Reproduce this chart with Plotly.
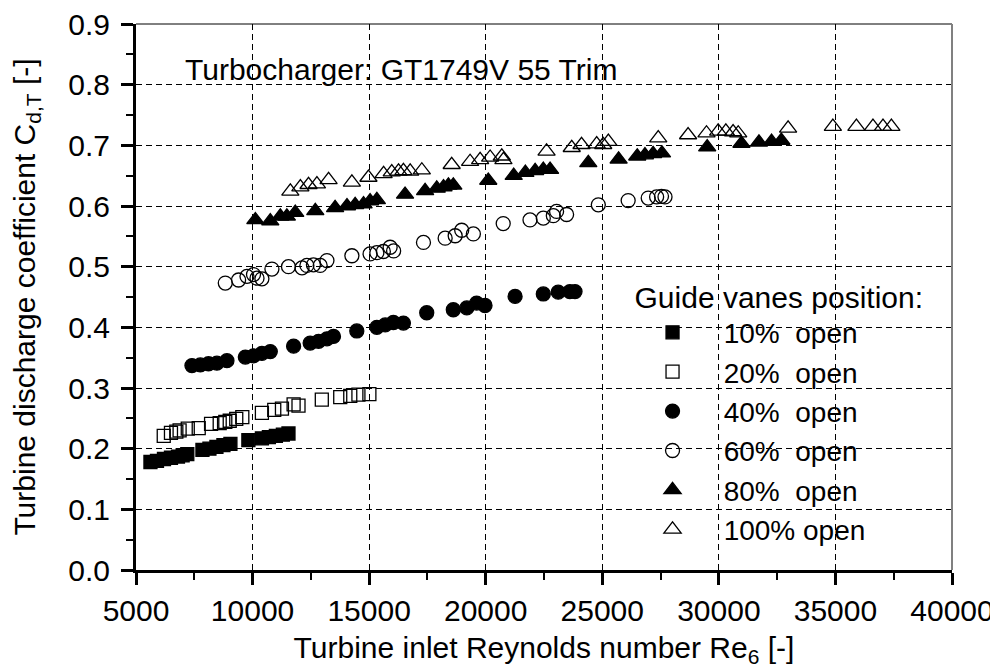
import plotly.graph_objects as go

FONT = "Liberation Sans, Arial, sans-serif"

# ---- data ----
x_10 = [5620, 5900, 6200, 6500, 6800, 7000, 7200, 7850, 8150, 8450, 8750, 9050,
        9820, 10400, 10700, 11000, 11300, 11540]
y_10 = [0.178, 0.180, 0.183, 0.185, 0.187, 0.189, 0.191, 0.198, 0.200, 0.203, 0.206, 0.208,
        0.214, 0.217, 0.219, 0.221, 0.223, 0.225]

x_20 = [6190, 6500, 6730, 6870, 7220, 7690, 8220, 8590, 8830, 9020, 9300, 9560, 10400,
        10930, 11260, 11760, 11970, 12970, 13760, 14190, 14540, 15010]
y_20 = [0.221, 0.226, 0.228, 0.230, 0.233, 0.234, 0.241, 0.242, 0.244, 0.246, 0.249, 0.252,
        0.259, 0.264, 0.266, 0.273, 0.271, 0.281, 0.285, 0.287, 0.289, 0.290]

x_40 = [7400, 7760, 8110, 8470, 8900, 9690, 10040, 10400, 10760, 11760, 12470, 12830, 13190,
        13470, 14470, 15330, 15690, 16040, 16470, 17470, 18610, 19190, 19610, 19970, 21260,
        22470, 23110, 23610, 23830]
y_40 = [0.337, 0.338, 0.340, 0.341, 0.345, 0.351, 0.353, 0.357, 0.360, 0.369, 0.374, 0.377,
        0.381, 0.385, 0.394, 0.400, 0.404, 0.408, 0.407, 0.424, 0.429, 0.432, 0.440, 0.436,
        0.451, 0.455, 0.458, 0.459, 0.459]

x_60 = [8830, 9400, 9760, 10040, 10190, 10400, 10830, 11540, 12120, 12330, 12610, 12900,
        13190, 14260, 15040, 15330, 15610, 15900, 16050, 17330, 18260, 18690, 18970, 19470,
        20750, 21900, 22470, 22900, 23040, 23470, 24830, 26110, 26970, 27330, 27540, 27690]
y_60 = [0.473, 0.478, 0.484, 0.487, 0.481, 0.480, 0.496, 0.500, 0.498, 0.502, 0.503, 0.502,
        0.510, 0.518, 0.521, 0.523, 0.525, 0.532, 0.526, 0.540, 0.547, 0.551, 0.560, 0.554,
        0.571, 0.577, 0.580, 0.584, 0.591, 0.586, 0.602, 0.609, 0.613, 0.615, 0.616, 0.615]

x_80 = [10120, 10760, 11190, 11470, 11830, 12690, 13540, 14050, 14400, 14760, 15040, 15330,
        16540, 17400, 17900, 18190, 18400, 18610, 20110, 21200, 21700, 22120, 22470, 22760,
        24400, 25700, 26500, 26830, 27180, 27560, 29500, 30970, 31720, 32260, 32680]
y_80 = [0.577, 0.575, 0.583, 0.583, 0.589, 0.592, 0.597, 0.600, 0.602, 0.603, 0.608, 0.610,
        0.619, 0.625, 0.629, 0.631, 0.634, 0.634, 0.642, 0.650, 0.655, 0.658, 0.660, 0.660,
        0.671, 0.677, 0.682, 0.684, 0.686, 0.687, 0.697, 0.703, 0.705, 0.706, 0.708]

x_100 = [11620, 12050, 12400, 12760, 13260, 14260, 14970, 15620, 15970, 16260, 16470, 16760,
         17260, 18540, 19330, 19760, 20190, 20690, 20760, 22610, 23690, 24110, 24760, 25040,
         25260, 27400, 28680, 29470, 29970, 30300, 30610, 30830, 32970, 34890, 35900, 36610,
         37040, 37400]
y_100 = [0.624, 0.631, 0.635, 0.636, 0.643, 0.639, 0.647, 0.653, 0.656, 0.657, 0.658, 0.657,
         0.659, 0.668, 0.673, 0.676, 0.680, 0.682, 0.676, 0.690, 0.696, 0.701, 0.702, 0.701,
         0.706, 0.712, 0.717, 0.720, 0.723, 0.723, 0.722, 0.720, 0.728, 0.731, 0.731, 0.731,
         0.731, 0.731]

series_names = ["10%\u00a0\u00a0open", "20%\u00a0\u00a0open", "40%\u00a0\u00a0open",
                "60%\u00a0\u00a0open", "80%\u00a0\u00a0open", "100%\u00a0open"]
series_x = [x_10, x_20, x_40, x_60, x_80, x_100]
series_y = [y_10, y_20, y_40, y_60, y_80, y_100]
symbols = ["square", "square-open", "circle", "circle-open", "triangle-up", "triangle-up-open"]
sizes = [13, 13, 14, 14, 15, 15]

legend_title = "Guide vanes position:"
annotation_text = "Turbocharger: GT1749V 55 Trim"
x_title = "Turbine inlet Reynolds number Re<sub>6</sub> [-]"
y_title = "Turbine discharge coefficient C<sub>d,T</sub> [-]"

# ---- figure ----
fig = go.Figure()
pad = "\u00a0\u00a0\u00a0\u00a0"
for name, xs, ys, sym, sz in zip(series_names, series_x, series_y, symbols, sizes):
    fig.add_trace(go.Scatter(
        x=xs, y=ys, mode="markers", name=pad + name,
        marker=dict(symbol=sym, size=sz, color="black", line=dict(color="black", width=1.3)),
    ))

axis_common = dict(
    showline=True, linecolor="black", linewidth=3, mirror=False,
    ticks="outside", ticklen=12, tickwidth=3, tickcolor="black",
    showgrid=True, gridcolor="black", gridwidth=1, griddash="6px,4px",
    zeroline=False, ticklabeloverflow="allow", automargin=False,
    tickfont=dict(family=FONT, size=30, color="black"),
)

fig.update_xaxes(
    range=[5000, 40000], tick0=5000, dtick=5000, tickformat="d", ticklabelstandoff=0,
    minor=dict(ticks="outside", ticklen=7, tickwidth=2, tickcolor="black", dtick=2500, showgrid=False),
    title=dict(text=x_title, font=dict(family=FONT, size=30, color="black"), standoff=11),
    **axis_common,
)
fig.update_yaxes(
    range=[0, 0.9], tick0=0, dtick=0.1, tickformat=".1f", ticklabelstandoff=5,
    minor=dict(ticks="outside", ticklen=7, tickwidth=2, tickcolor="black", dtick=0.05, showgrid=False),
    title=dict(text=y_title, font=dict(family=FONT, size=30, color="black"), standoff=25),
    **axis_common,
)

# the page body adds an 8 px offset, so the figure is 990 x 661
fig.update_layout(
    width=990, height=661,
    margin=dict(l=128, r=46, t=16, b=99),
    paper_bgcolor="white", plot_bgcolor="white",
    font=dict(family=FONT, size=30, color="black"),
    showlegend=True,
    legend=dict(
        x=0.6085, y=0.552, xanchor="left", yanchor="top",
        bgcolor="rgba(0,0,0,0)", borderwidth=0,
        font=dict(family=FONT, size=28, color="black"),
        title=dict(text=legend_title, font=dict(family=FONT, size=30, color="black")),
        indentation=20,
        tracegroupgap=0,
    ),
    shapes=[
        # white box behind the annotation text (covers gridlines only)
        dict(type="rect", xref="paper", yref="paper", x0=0.0147, x1=0.652, y0=0.847, y1=0.9714,
             fillcolor="white", line=dict(width=0), layer="between"),
        # white box behind the legend
        dict(type="rect", xref="paper", yref="paper", x0=0.6017, x1=0.9828, y0=0.039, y1=0.5447,
             fillcolor="white", line=dict(width=0), layer="between"),
        # thin top frame line
        dict(type="line", xref="paper", yref="paper", x0=0, x1=1, y0=1, y1=1,
             line=dict(color="black", width=1)),
        # thin grey right frame line
        dict(type="line", xref="paper", yref="paper", x0=1, x1=1, y0=0, y1=1,
             line=dict(color="#808080", width=2)),
    ],
    annotations=[
        dict(text=annotation_text, xref="paper", yref="paper", x=0.058, y=0.917,
             xanchor="left", yanchor="middle", showarrow=False,
             font=dict(family=FONT, size=30, color="black")),
    ],
)

fig.write_html("out.html")
